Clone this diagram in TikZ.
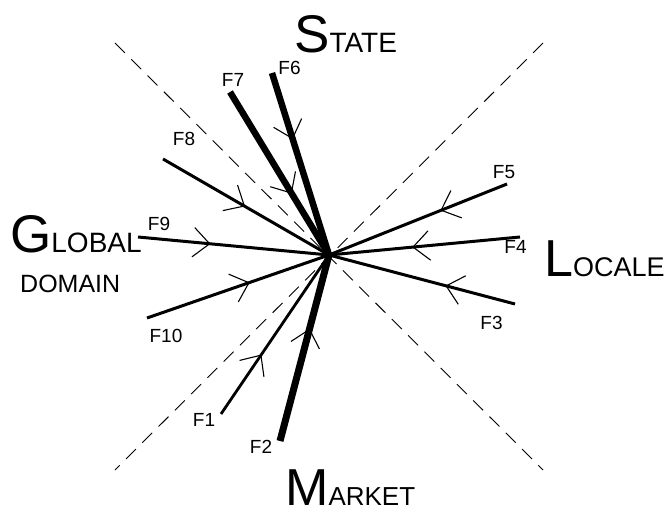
\documentclass[tikz,border=0pt]{standalone}
\usepackage{fontspec}
\setmainfont{Liberation Sans}
\usetikzlibrary{calc}
\begin{document}
\begin{tikzpicture}[x=1pt,y=-1pt,
  ray/.style={line width=#1, line cap=butt},
  chevron/.style={line width=1.1pt},
  dashline/.style={line width=0.9pt, dash pattern=on 14pt off 9pt},
  lbl/.style={inner sep=0pt, font=\fontsize{19}{19}\selectfont},
  big/.style={inner sep=0pt, anchor=base west}]
\useasboundingbox (0,0) rectangle (666,510);
% dashed diagonals
\coordinate (d1) at (115,43);
\coordinate (d2) at (543,470);
\coordinate (d3) at (543,43);
\coordinate (d4) at (115,470);
\draw[dashline] (d1) -- (d2);
\draw[dashline] (d3) -- (d4);
% centre and ray ends
\coordinate (C) at (329,255);
\coordinate (e1) at (221,414);
\coordinate (e2) at (280,441);
\coordinate (e3) at (515,304);
\coordinate (e4) at (520,237);
\coordinate (e5) at (507,184);
\coordinate (e6) at (272,73);
\coordinate (e7) at (230,92);
\coordinate (e8) at (163,159);
\coordinate (e9) at (138,237);
\coordinate (e10) at (147,318);
\foreach \i/\t/\w in {1/0.37/2.8pt, 2/0.60/7pt, 3/0.37/3pt, 4/0.56/3pt, 5/0.37/3pt,
                      6/0.36/6.5pt, 7/0.62/6.5pt, 8/0.49/3pt, 9/0.375/3pt, 10/0.56/3pt}{
  \draw[ray=\w] (e\i) -- (C);
  \coordinate (a\i) at ($(e\i)!\t!(C)$);
  \draw[chevron] ($(a\i)!22pt!42:(e\i)$) -- (a\i) -- ($(a\i)!22pt!-42:(e\i)$);
}
% ray labels
\node[lbl] (l1) at (204,420) {F1};
\node[lbl] (l2) at (261,446.5) {F2};
\node[lbl] (l3) at (491.5,323) {F3};
\node[lbl] (l4) at (515.5,247) {F4};
\node[lbl] (l5) at (504,172.5) {F5};
\node[lbl] (l6) at (289.5,68) {F6};
\node[lbl] (l7) at (233,80) {F7};
\node[lbl] (l8) at (184,138.5) {F8};
\node[lbl] (l9) at (159,224) {F9};
\node[lbl] (l10) at (166,336) {F10};
% pole labels
\node[big] (state) at (294,53) {\fontsize{53}{53}\selectfont S\fontsize{28}{28}\selectfont TATE};
\node[big] (market) at (285,505) {\fontsize{52}{52}\selectfont M\fontsize{26}{26}\selectfont ARKET};
\node[big] (global) at (10,253) {\fontsize{53}{53}\selectfont G\fontsize{28}{28}\selectfont LOBAL};
\node[big] (domain) at (20,293) {\fontsize{25}{25}\selectfont DOMAIN};
\node[big] (locale) at (544,277) {\fontsize{52}{52}\selectfont L\fontsize{27}{27}\selectfont OCALE};
\end{tikzpicture}
\end{document}
